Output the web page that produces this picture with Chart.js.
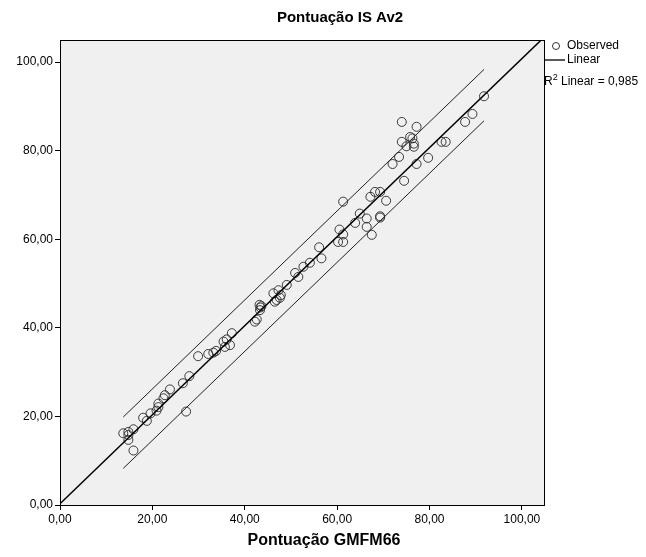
<!DOCTYPE html>
<html>
<head>
<meta charset="utf-8">
<script src="https://cdn.jsdelivr.net/npm/chart.js@4/dist/chart.umd.min.js"></script>
<style>
  html, body { margin:0; padding:0; background:#ffffff; }
  canvas { display:block; }
</style>
</head>
<body>
<canvas id="c" width="646" height="557"></canvas>
<script>
// ---- Data ----
const gmfm66 = [13.7,14.8,14.8,14.8,15.9,15.9,18.0,18.8,19.6,20.9,21.3,21.3,22.4,22.7,23.8,26.6,27.3,28.0,
  29.9,32.1,33.2,33.8,35.4,36.1,37.2,36.8,35.7,42.2,42.6,43.2,43.4,43.3,43.6,46.2,47.3,46.5,47.6,46.9,47.8,
  49.1,50.9,51.6,52.7,54.1,56.6,56.1,
  60.5,61.3,60.2,61.3,61.3,64.9,63.9,66.4,66.4,67.5,
  68.2,69.3,67.2,70.6,69.3,69.3,
  74.0,77.2,75.8,76.3,74.0,76.6,75.0,76.6,82.6,83.5,73.4,72.0,77.2,79.7,74.5,
  87.7,89.3,91.8];
const isAv2 = [16.2,16.5,15.8,14.7,17.1,12.3,19.7,19.0,20.7,21.3,22.1,22.9,24.1,24.8,26.1,27.5,21.1,29.1,
  33.6,34.1,34.4,34.8,36.9,37.4,38.8,36.1,35.7,41.4,41.9,45.2,44.6,44.0,44.9,47.8,48.5,45.9,46.8,46.3,47.4,
  49.7,52.4,51.5,53.8,54.7,55.7,58.2,
  62.2,61.1,59.4,59.4,68.5,65.8,63.7,64.7,62.8,61.0,
  70.7,70.7,69.6,68.7,65.2,64.9,
  86.5,85.4,83.1,82.8,82.0,81.6,81.0,80.9,82.0,82.0,78.6,77.0,77.0,78.4,73.2,
  86.5,88.3,92.3];
const tickValues = [0, 20, 40, 60, 80, 100];
const axisMin = 0, axisMax = 105;
const fitIntercept = 0.3, fitSlope = 1.005;  // Linear fit
const predHalfWidth = 5.8;                   // prediction interval half width
const rSquared = '0,985';
const titleY = 'Pontuação IS Av2';
const titleX = 'Pontuação GMFM66';
const legendLabels = ['Observed', 'Linear'];

// ---- Build library data ----
const points = gmfm66.map((x, i) => ({ x, y: isAv2[i] }));
const fit = x => fitIntercept + fitSlope * x;
const xLo = Math.min(...gmfm66), xHi = Math.max(...gmfm66);
const fitLine = [{ x: axisMin, y: fit(axisMin) }, { x: axisMax, y: fit(axisMax) }];
const upperLine = [{ x: xLo, y: fit(xLo) + predHalfWidth }, { x: xHi, y: fit(xHi) + predHalfWidth }];
const lowerLine = [{ x: xLo, y: fit(xLo) - predHalfWidth }, { x: xHi, y: fit(xHi) - predHalfWidth }];

const fmt = v => Number(v).toFixed(2).replace('.', ',');
const FONT = '"Liberation Sans", Arial, sans-serif';

const decor = {
  id: 'decor',
  beforeDraw(chart) {
    const { ctx, chartArea: a } = chart;
    ctx.save();
    ctx.fillStyle = '#ffffff';
    ctx.fillRect(0, 0, chart.width, chart.height);
    ctx.fillStyle = '#f0f0f0';
    ctx.fillRect(a.left, a.top, a.right - a.left, a.bottom - a.top);
    ctx.restore();
  },
  afterDraw(chart) {
    const { ctx, chartArea: a } = chart;
    ctx.save();
    // plot border
    ctx.strokeStyle = '#000';
    ctx.lineWidth = 1;
    ctx.strokeRect(a.left + 0.5, a.top + 0.5, a.right - a.left - 1, a.bottom - a.top);
    // titles
    ctx.fillStyle = '#000';
    ctx.textAlign = 'center';
    ctx.textBaseline = 'middle';
    ctx.font = 'bold 15px ' + FONT;
    ctx.fillText(titleY, 340, 18);
    ctx.font = 'bold 16px ' + FONT;
    ctx.fillText(titleX, 324, 541);
    // legend
    ctx.font = '12px ' + FONT;
    ctx.textAlign = 'left';
    ctx.strokeStyle = '#333';
    ctx.lineWidth = 1;
    ctx.beginPath();
    ctx.arc(556, 46, 3.5, 0, Math.PI * 2);
    ctx.stroke();
    ctx.fillText(legendLabels[0], 567, 46);
    ctx.strokeStyle = '#000';
    ctx.lineWidth = 1.3;
    ctx.beginPath();
    ctx.moveTo(545, 60);
    ctx.lineTo(565, 60);
    ctx.stroke();
    ctx.fillText(legendLabels[1], 567, 60);
    // R² text
    ctx.fillText('R', 544, 82);
    const rw = ctx.measureText('R').width;
    ctx.font = '9px ' + FONT;
    ctx.fillText('2', 544 + rw, 78);
    const sw = ctx.measureText('2').width;
    ctx.font = '12px ' + FONT;
    ctx.fillText(' Linear = ' + rSquared, 544 + rw + sw, 82);
    ctx.restore();
  }
};

const axisCommon = {
  type: 'linear',
  min: axisMin,
  max: axisMax,
  afterBuildTicks: s => { s.ticks = tickValues.map(v => ({ value: v })); },
  grid: { drawOnChartArea: false, drawTicks: true, tickLength: 5, color: '#000', lineWidth: 1 },
  border: { display: false },
  ticks: { color: '#000', font: { family: FONT, size: 12 }, padding: 2, callback: v => fmt(v), maxRotation: 0 }
};

new Chart(document.getElementById('c'), {
  type: 'scatter',
  data: {
    datasets: [
      { label: 'Observed', data: points, pointStyle: 'circle', pointRadius: 4.5, borderWidth: 1,
        borderColor: 'rgba(40,40,40,0.9)', backgroundColor: 'rgba(0,0,0,0)', order: 1 },
      { label: 'Linear', data: fitLine, showLine: true, pointRadius: 0, borderColor: '#000', borderWidth: 1.5, order: 0 },
      { label: 'Upper', data: upperLine, showLine: true, pointRadius: 0, borderColor: '#222', borderWidth: 1, order: 0 },
      { label: 'Lower', data: lowerLine, showLine: true, pointRadius: 0, borderColor: '#222', borderWidth: 1, order: 0 }
    ]
  },
  options: {
    responsive: false,
    animation: false,
    layout: { padding: { left: 0, top: 40, right: 101, bottom: 0 } },
    plugins: { legend: { display: false }, tooltip: { enabled: false }, title: { display: false } },
    scales: {
      x: Object.assign({}, axisCommon, { position: 'bottom', afterFit: s => { s.height = 52; } }),
      y: Object.assign({}, axisCommon, { position: 'left', afterFit: s => { s.width = 60; } })
    }
  },
  plugins: [decor]
});
</script>
</body>
</html>
